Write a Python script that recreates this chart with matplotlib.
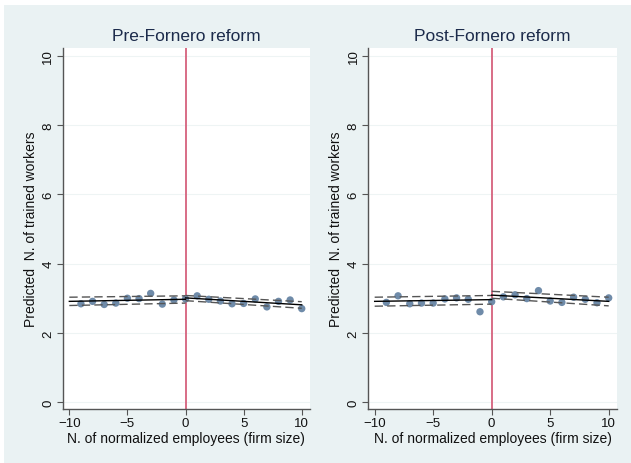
import matplotlib
matplotlib.use("Agg")
import matplotlib.pyplot as plt
from matplotlib.patches import Rectangle

plt.rcParams['font.family'] = ['Liberation Sans', 'DejaVu Sans']

# ---- data ----
x_bins = [-9, -8, -7, -6, -5, -4, -3, -2, -1, 0, 1, 2, 3, 4, 5, 6, 7, 8, 9, 10]
pre_means = [2.84, 2.91, 2.82, 2.86, 3.00, 2.99, 3.14, 2.83, 2.95, 2.98,
             3.07, 2.97, 2.92, 2.84, 2.85, 2.98, 2.75, 2.91, 2.95, 2.70]
post_means = [2.88, 3.07, 2.84, 2.86, 2.86, 2.98, 3.01, 2.97, 2.61, 2.90,
              3.04, 3.10, 2.99, 3.22, 2.92, 2.88, 3.03, 2.97, 2.87, 3.01]

fit_x_left = [-10, 0]
fit_x_right = [0, 10]
pre_fit_left = [2.91, 2.97]
pre_hi_left = [3.03, 3.07]
pre_lo_left = [2.79, 2.86]
pre_fit_right = [3.01, 2.81]
pre_hi_right = [3.08, 2.90]
pre_lo_right = [2.93, 2.71]
post_fit_left = [2.91, 2.96]
post_hi_left = [3.03, 3.08]
post_lo_left = [2.77, 2.83]
post_fit_right = [3.09, 2.91]
post_hi_right = [3.20, 3.03]
post_lo_right = [3.00, 2.78]

titles = ["Pre-Fornero reform", "Post-Fornero reform"]
xlabel = "N. of normalized employees (firm size)"
ylabel = "Predicted  N. of trained workers"
xticks = [-10, -5, 0, 5, 10]
yticks = [0, 2, 4, 6, 8, 10]

BG = "#EAF2F3"
fig = plt.figure(figsize=(6.31, 4.64), dpi=100, facecolor="white")
fig.patches.append(Rectangle((4 / 631, 0), 1, 1 - 6 / 464, transform=fig.transFigure,
                             facecolor=BG, edgecolor="none", zorder=-10))

W, H = 631, 464
positions = [(62.7, 310), (368, 617)]
top_px, bot_px = 49, 410

panels = [
    (pre_means, pre_fit_left, pre_hi_left, pre_lo_left, pre_fit_right, pre_hi_right, pre_lo_right),
    (post_means, post_fit_left, post_hi_left, post_lo_left, post_fit_right, post_hi_right, post_lo_right),
]

for i, (l_px, r_px) in enumerate(positions):
    ax = fig.add_axes([l_px / W, 1 - bot_px / H, (r_px - l_px) / W, (bot_px - top_px) / H])
    ax.set_facecolor("white")
    means, fl, hl, ll, fr, hr, lr = panels[i]
    ax.set_xlim(-10.57, 10.71)
    ax.set_ylim(-0.2, 10.23)
    ax.set_yticks(yticks)
    ax.set_xticks(xticks)
    ax.yaxis.grid(True, color="#EEF4F4", linewidth=0.8, zorder=0)
    ax.set_axisbelow(True)
    for s in ["top", "right"]:
        ax.spines[s].set_visible(False)
    for s in ["left", "bottom"]:
        ax.spines[s].set_color("#555555")
        ax.spines[s].set_linewidth(1.0)
    ax.tick_params(direction="out", length=4, width=0.8, color="#555555",
                   labelsize=9.5, labelcolor="#111111", pad=2)
    for lab in ax.get_yticklabels():
        lab.set_rotation(90)
        lab.set_va("center")
    ax.axvline(0, color="#D6617D", linewidth=1.3, zorder=2)
    ax.scatter(x_bins, means, s=28, color="#6F8BA9", edgecolors="none", zorder=3)
    dash = dict(color="#555555", linewidth=1.0, linestyle=(0, (6, 3)), zorder=4)
    ax.plot(fit_x_left, fl, color="black", linewidth=1.0, zorder=4)
    ax.plot(fit_x_left, hl, **dash)
    ax.plot(fit_x_left, ll, **dash)
    ax.plot(fit_x_right, fr, color="black", linewidth=1.0, zorder=4)
    ax.plot(fit_x_right, hr, **dash)
    ax.plot(fit_x_right, lr, **dash)
    ax.set_title(titles[i], fontsize=12.5, color="#1C2B4B", pad=6)
    ax.set_xlabel(xlabel, fontsize=10, color="#111111", labelpad=1)
    ax.set_ylabel(ylabel, fontsize=10, color="#111111", labelpad=3)

fig.savefig("out.png", dpi=100, facecolor=fig.get_facecolor())
